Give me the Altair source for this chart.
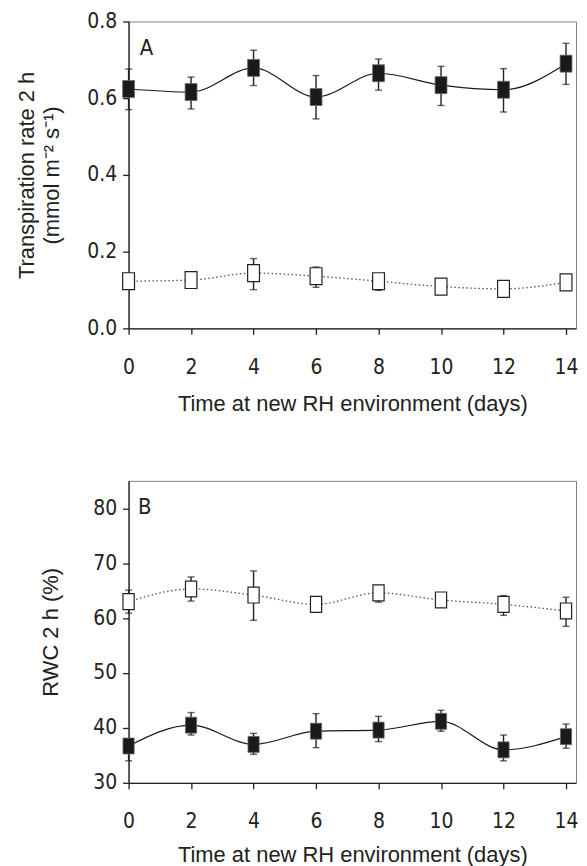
import altair as alt
import pandas as pd

days = [0, 2, 4, 6, 8, 10, 12, 14]

# Panel A: transpiration rate (mmol m-2 s-1)
a_fill_mean = [0.624, 0.616, 0.679, 0.603, 0.665, 0.634, 0.622, 0.690]
a_fill_lo = [0.570, 0.572, 0.633, 0.546, 0.621, 0.581, 0.564, 0.636]
a_fill_hi = [0.676, 0.655, 0.725, 0.659, 0.702, 0.683, 0.677, 0.743]
a_open_mean = [0.123, 0.126, 0.144, 0.136, 0.123, 0.109, 0.103, 0.120]
a_open_lo = [0.110, 0.113, 0.101, 0.107, 0.099, 0.098, 0.092, 0.108]
a_open_hi = [0.136, 0.139, 0.182, 0.160, 0.140, 0.120, 0.114, 0.132]

# Panel B: RWC (%)
b_fill_mean = [36.7, 40.5, 37.0, 39.4, 39.6, 41.2, 36.0, 38.4]
b_fill_lo = [34.0, 38.7, 35.2, 36.4, 37.5, 39.4, 34.0, 36.3]
b_fill_hi = [38.0, 42.8, 39.0, 42.6, 42.1, 43.2, 38.7, 40.7]
b_open_mean = [63.0, 65.3, 64.2, 62.5, 64.6, 63.3, 62.5, 61.3]
b_open_lo = [60.9, 63.1, 59.6, 61.2, 62.9, 62.0, 60.5, 58.5]
b_open_hi = [65.1, 67.5, 68.6, 63.8, 65.8, 64.5, 64.1, 63.8]

x_title = "Time at new RH environment (days)"
a_y_title = ["Transpiration rate 2 h", "(mmol m\u207b\u00b2 s\u207b\u00b9)"]
b_y_title = "RWC 2 h (%)"

NARROW = "Liberation Sans Narrow, DejaVu Sans Condensed, Roboto Condensed, Liberation Sans, Arial"
SANS = "Liberation Sans, Arial, Helvetica, sans-serif"
INK = "#222222"
BOX = "M-0.7,-1H0.7V1H-0.7Z"


def make_df(mean_f, lo_f, hi_f, mean_o, lo_o, hi_o):
    rows = []
    for d, m, lo, hi in zip(days, mean_f, lo_f, hi_f):
        rows.append({"day": d, "v": m, "lo": lo, "hi": hi, "s": "filled"})
    for d, m, lo, hi in zip(days, mean_o, lo_o, hi_o):
        rows.append({"day": d, "v": m, "lo": lo, "hi": hi, "s": "open"})
    return pd.DataFrame(rows)


def panel(df, ydomain, yvalues, yfmt, ytitle, ytp, xtp, letter, letter_x, letter_y, h, msize):
    xs = alt.Scale(domain=[0, 14.32], nice=False, zero=False)
    ys = alt.Scale(domain=ydomain, nice=False, zero=False)
    xax = alt.Axis(values=days, title=x_title, grid=False, tickSize=6,
                   labelPadding=22, titlePadding=xtp, labelFlush=False)
    yax = alt.Axis(values=yvalues, format=yfmt, title=ytitle, grid=False,
                   tickSize=6, labelPadding=6, titlePadding=ytp)
    X = alt.X("day:Q", scale=xs, axis=xax)

    def Y(field):
        return alt.Y(f"{field}:Q", scale=ys, axis=yax)

    base = alt.Chart(df)
    filled = base.transform_filter(alt.datum.s == "filled")
    opened = base.transform_filter(alt.datum.s == "open")

    line_f = filled.mark_line(color="#1a1a1a", strokeWidth=1.2, interpolate="monotone").encode(x=X, y=Y("v"))
    line_o = opened.mark_line(color="#555555", strokeWidth=1.3, strokeDash=[1.5, 2.5],
                              interpolate="monotone").encode(x=X, y=Y("v"))
    rules = base.mark_rule(color=INK, strokeWidth=1.4).encode(x=X, y=Y("lo"), y2="hi:Q")
    cap_lo = base.mark_tick(orient="horizontal", size=7, thickness=1.4, color=INK).encode(x=X, y=Y("lo"))
    cap_hi = base.mark_tick(orient="horizontal", size=7, thickness=1.4, color=INK).encode(x=X, y=Y("hi"))
    pts_f = filled.mark_point(shape=BOX, size=msize, filled=True, fill="#1a1a1a", stroke="#666666",
                              strokeWidth=0.8, opacity=1).encode(x=X, y=Y("v"))
    pts_o = opened.mark_point(shape=BOX, size=msize, filled=True, fill="white", stroke=INK,
                              strokeWidth=1.2, opacity=1).encode(x=X, y=Y("v"))
    lab = alt.Chart(pd.DataFrame({"t": [letter]})).mark_text(
        align="left", baseline="middle", font=NARROW, fontSize=22, color=INK
    ).encode(x=alt.datum(letter_x), y=alt.datum(letter_y), text="t:N")

    return alt.layer(line_f, line_o, rules, cap_lo, cap_hi, pts_f, pts_o, lab).properties(
        width=449, height=h)


dfa = make_df(a_fill_mean, a_fill_lo, a_fill_hi, a_open_mean, a_open_lo, a_open_hi)
dfb = make_df(b_fill_mean, b_fill_lo, b_fill_hi, b_open_mean, b_open_lo, b_open_hi)

pa = panel(dfa, [0, 0.8], [0, 0.2, 0.4, 0.6, 0.8], ".1f", a_y_title, 23, 16,
           "A", 0.36, 0.731, 308, 289)
pb = panel(dfb, [30, 85], [30, 40, 50, 60, 70, 80], "d", b_y_title, 30, 13,
           "B", 0.3, 80.3, 303, 256)

chart = alt.vconcat(pa, pb, spacing=65).properties(
    padding={"left": 7, "top": 0, "right": 0, "bottom": 0}
).configure_view(
    stroke="#808080", strokeWidth=1
).configure_axis(
    labelFont=NARROW, labelFontSize=21, labelColor=INK,
    titleFont=SANS, titleFontSize=22, titleFontWeight="normal", titleColor=INK,
    domainColor=INK, domainWidth=1.3, tickColor=INK, tickWidth=1.3, titleLineHeight=25
)

chart.save("out.html", embed_options={"renderer": "svg", "actions": False})
